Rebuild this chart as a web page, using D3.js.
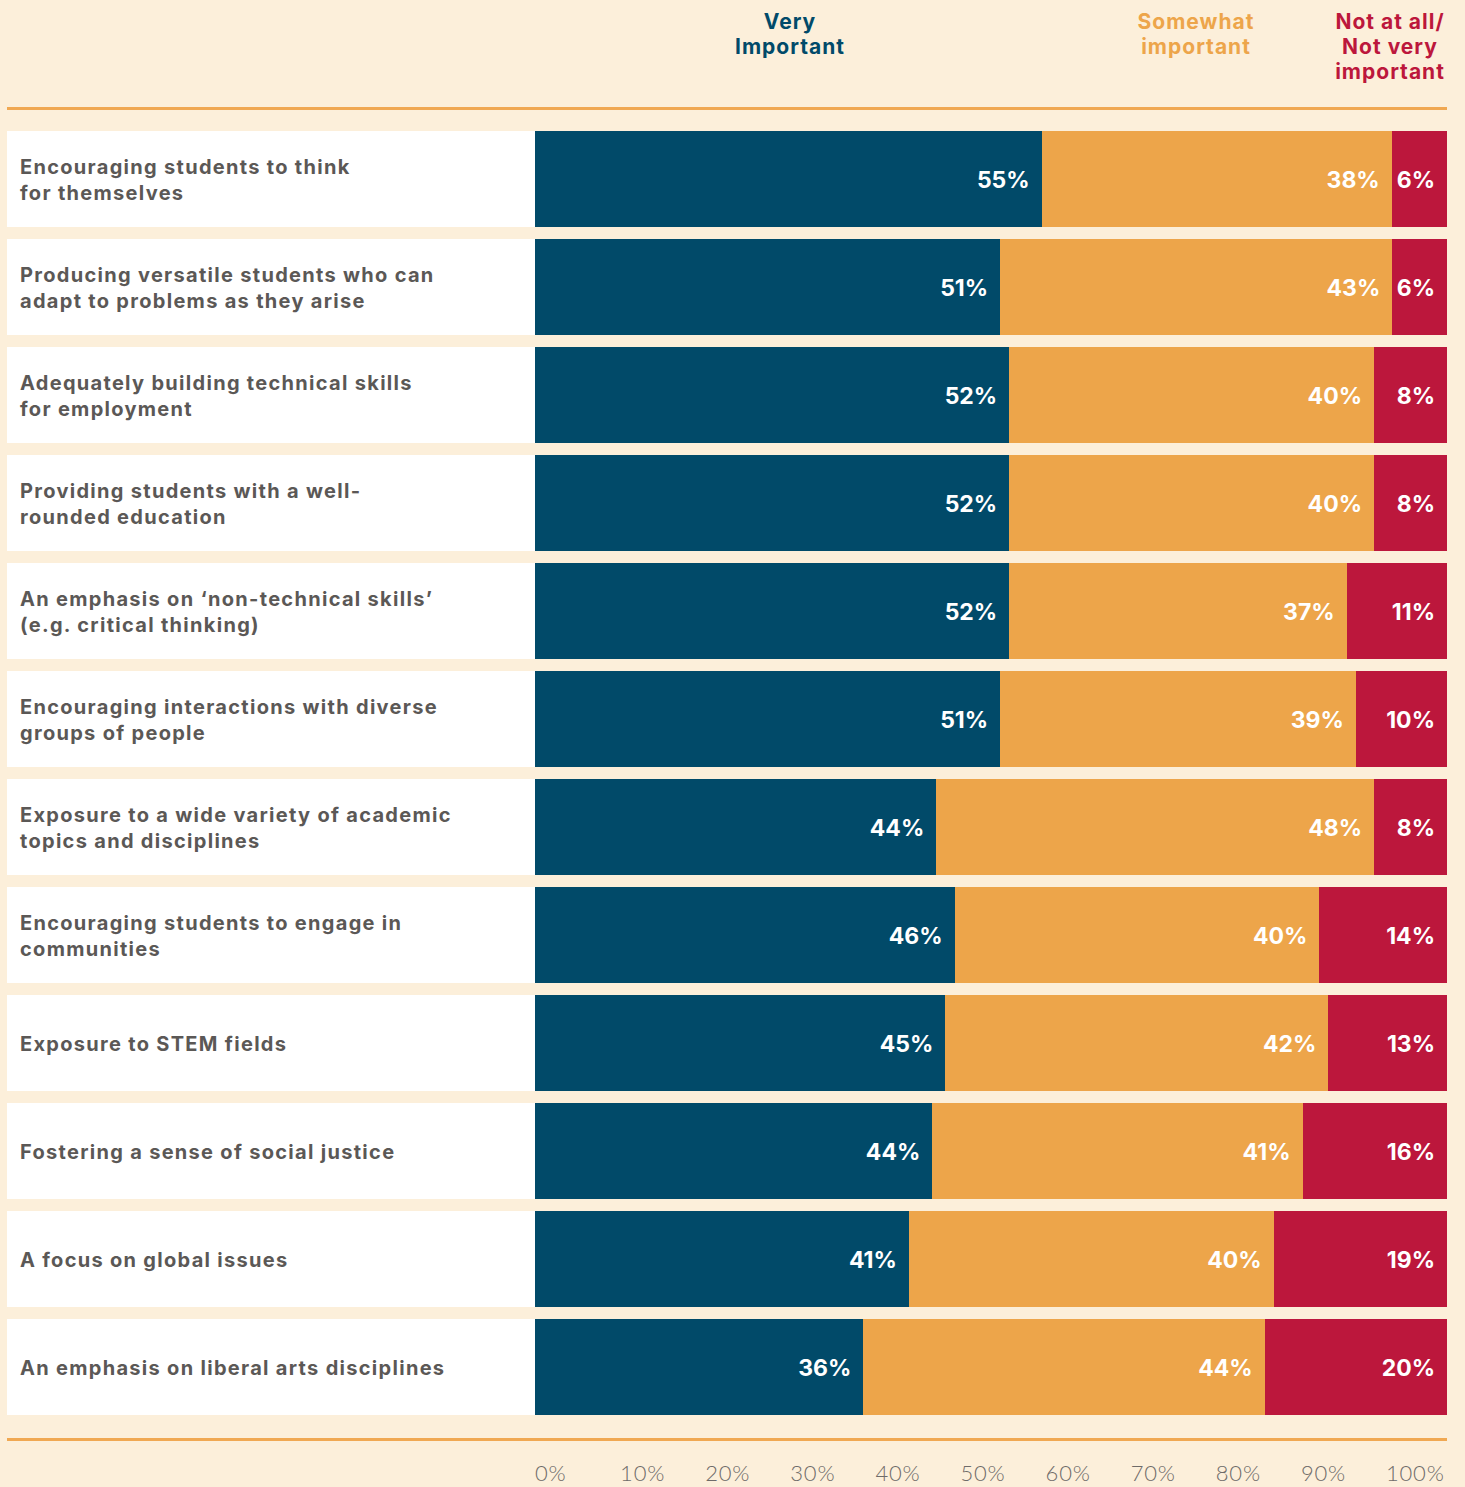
<!DOCTYPE html>
<html>
<head>
<meta charset="utf-8">
<script src="https://cdn.jsdelivr.net/npm/d3@7"></script>
<style>
  html, body { margin: 0; padding: 0; background: #FCEFDA; }
  svg { display: block; }
</style>
</head>
<body>
<svg id="chart" width="1465" height="1487"></svg>
<script>
const categories = [
  ["Encouraging students to think", "for themselves"],
  ["Producing versatile students who can", "adapt to problems as they arise"],
  ["Adequately building technical skills", "for employment"],
  ["Providing students with a well-", "rounded education"],
  ["An emphasis on \u2018non-technical skills\u2019", "(e.g. critical thinking)"],
  ["Encouraging interactions with diverse", "groups of people"],
  ["Exposure to a wide variety of academic", "topics and disciplines"],
  ["Encouraging students to engage in", "communities"],
  ["Exposure to STEM fields"],
  ["Fostering a sense of social justice"],
  ["A focus on global issues"],
  ["An emphasis on liberal arts disciplines"]
];
const veryImportant     = [55, 51, 52, 52, 52, 51, 44, 46, 45, 44, 41, 36];
const somewhatImportant = [38, 43, 40, 40, 37, 39, 48, 40, 42, 41, 40, 44];
const notImportant      = [6, 6, 8, 8, 11, 10, 8, 14, 13, 16, 19, 20];
const seriesNames = [["Very", "Important"], ["Somewhat", "important"], ["Not at all/", "Not very", "important"]];
const tickLabels = [0, 10, 20, 30, 40, 50, 60, 70, 80, 90, 100];

const colors = ["#014A69", "#EDA54A", "#BC173C"];
const bg = "#FCEFDA";
const svg = d3.select("#chart");
const W = 1465, H = 1487;

svg.append("rect").attr("width", W).attr("height", H).attr("fill", bg);

const x = d3.scaleLinear().domain([0, 1]).range([535, 1447]);
const y = d3.scaleBand().domain(d3.range(categories.length)).range([131, 1415]).paddingInner(12 / 108).paddingOuter(0);

const rows = categories.map((c, i) => {
  const vals = [veryImportant[i], somewhatImportant[i], notImportant[i]];
  const tot = d3.sum(vals);
  let acc = 0;
  const segs = vals.map((v, k) => {
    const s = { k, v, x0: acc / tot, x1: (acc + v) / tot };
    acc += v;
    return s;
  });
  return { i, label: c, segs };
});

// label boxes
const g = svg.append("g");
const row = g.selectAll("g.row").data(rows).join("g").attr("class", "row");
row.append("rect")
  .attr("x", 7).attr("width", x(0) - 7)
  .attr("y", d => y(d.i)).attr("height", y.bandwidth())
  .attr("fill", "#FFFFFF");

row.append("text")
  .attr("font-family", "Inter, 'Noto Sans', sans-serif")
  .attr("font-weight", 700)
  .attr("font-size", 20)
  .attr("fill", "#5B5856")
  .attr("letter-spacing", 1.3)
  .each(function (d) {
    const t = d3.select(this);
    const n = d.label.length;
    const cy = y(d.i) + y.bandwidth() / 2;
    d.label.forEach((line, j) => {
      t.append("tspan")
        .attr("x", 20)
        .attr("y", cy + (j - (n - 1) / 2) * 26 + 8)
        .text(line);
    });
  });

// bar segments
row.selectAll("rect.seg").data(d => d.segs.map(s => ({ ...s, i: d.i }))).join("rect")
  .attr("class", "seg")
  .attr("x", s => x(s.x0))
  .attr("width", s => x(s.x1) - x(s.x0))
  .attr("y", s => y(s.i))
  .attr("height", y.bandwidth())
  .attr("fill", s => colors[s.k])
  .attr("shape-rendering", "crispEdges");

row.selectAll("text.val").data(d => d.segs.map(s => ({ ...s, i: d.i }))).join("text")
  .attr("class", "val")
  .attr("x", s => x(s.x1) - 12)
  .attr("y", s => y(s.i) + y.bandwidth() / 2 + 9)
  .attr("text-anchor", "end")
  .attr("font-family", "Inter, 'Noto Sans', sans-serif")
  .attr("font-weight", 700)
  .attr("font-size", 23)
  .attr("fill", "#FFFFFF")
  .text(s => s.v + "%");

// orange rules
svg.append("rect").attr("x", 7).attr("width", 1440).attr("y", 107).attr("height", 3).attr("fill", "#F0A852");
svg.append("rect").attr("x", 7).attr("width", 1440).attr("y", 1438).attr("height", 3).attr("fill", "#F0A852");

// header legend
const headerX = [790, 1196, 1390];
seriesNames.forEach((lines, k) => {
  const t = svg.append("text")
    .attr("text-anchor", "middle")
    .attr("font-family", "Inter, 'Noto Sans', sans-serif")
    .attr("font-weight", 700)
    .attr("font-size", 21)
    .attr("letter-spacing", 1)
    .attr("fill", colors[k]);
  lines.forEach((l, j) => {
    t.append("tspan").attr("x", headerX[k]).attr("y", 29 + j * 25).text(l);
  });
});

// bottom tick labels
const tx = d3.scaleLinear().domain([0, 100]).range([535, 1386]);
svg.append("g").selectAll("text").data(tickLabels).join("text")
  .attr("x", d => tx(d))
  .attr("y", 1481)
  .attr("font-family", "Lato, 'Noto Sans', sans-serif")
  .attr("font-weight", 300)
  .attr("font-size", 22)
  .attr("letter-spacing", 0.8)
  .attr("fill", "#6E6B69")
  .text(d => d + "%");
</script>
</body>
</html>
